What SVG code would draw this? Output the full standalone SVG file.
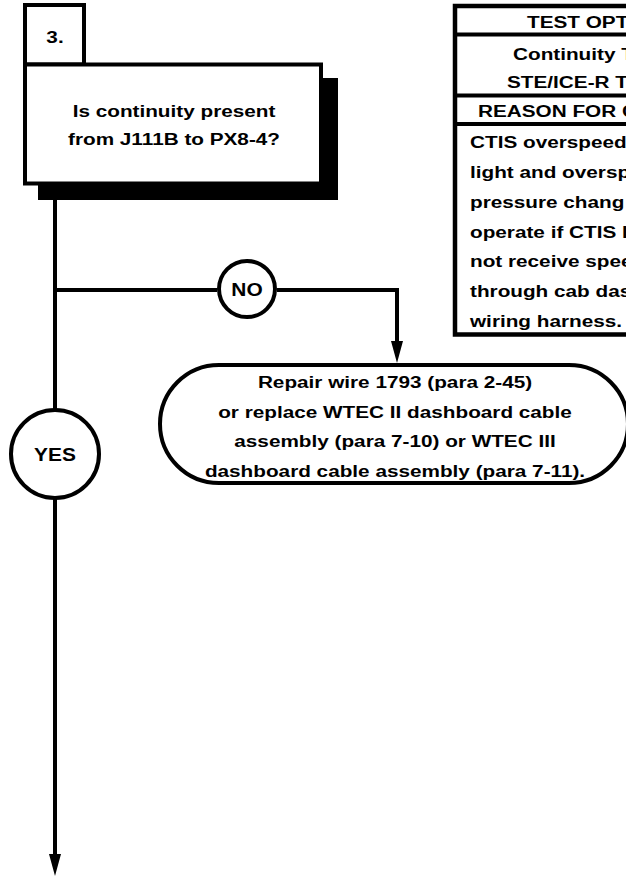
<svg xmlns="http://www.w3.org/2000/svg" width="626" height="878" viewBox="0 0 626 878">
<style>
.t{font-family:"Liberation Sans",Arial,sans-serif;font-weight:bold;font-size:17px;fill:#000}
.c{font-size:19px}
.m{text-anchor:middle}
.s{text-anchor:start}
.box{fill:#fff;stroke:#000;stroke-width:4}
.ln{fill:none;stroke:#000;stroke-width:4}
</style>
<defs>
<marker id="ah" markerUnits="userSpaceOnUse" markerWidth="22" markerHeight="12" refX="0" refY="6" orient="auto" viewBox="0 0 22 12">
<path d="M0,0 L22,6 L0,12 Z" fill="#000"/>
</marker>
</defs>
<g id="connectors">
<path class="ln" d="M55,200 V410"/>
<path class="ln" d="M55,498 V854" marker-end="url(#ah)"/>
<path class="ln" d="M55,290 H217"/>
<path class="ln" d="M277,290 H397 V341" marker-end="url(#ah)"/>
</g>
<g id="step3">
<rect x="38" y="78" width="300" height="122" fill="#000"/>
<rect class="box" x="25" y="5" width="59" height="59.5"/>
<rect class="box" x="25" y="64.5" width="296" height="119"/>
<text class="t m" transform="translate(55,43) scale(1.22,1)">3.</text>
<text class="t m" transform="translate(174,117) scale(1.22,1)">Is continuity present</text>
<text class="t m" transform="translate(174,145) scale(1.22,1)">from J111B to PX8-4?</text>
</g>
<g id="no">
<circle class="box" cx="247" cy="289" r="28"/>
<text class="t c m" transform="translate(247,296) scale(1.1,1)">NO</text>
</g>
<g id="yes">
<circle class="box" cx="55" cy="454" r="44"/>
<text class="t c m" transform="translate(55,461) scale(1.1,1)">YES</text>
</g>
<g id="repair">
<rect class="box" x="160" y="365" width="468" height="118" rx="59" ry="59"/>
<text class="t m" transform="translate(395,388) scale(1.22,1)">Repair wire 1793 (para 2-45)</text>
<text class="t m" transform="translate(395,418) scale(1.22,1)">or replace WTEC II dashboard cable</text>
<text class="t m" transform="translate(395,447) scale(1.22,1)">assembly (para 7-10) or WTEC III</text>
<text class="t m" transform="translate(395,477) scale(1.22,1)">dashboard cable assembly (para 7-11).</text>
</g>
<g id="table">
<rect x="455" y="6" width="260" height="328.5" fill="#fff" stroke="#000" stroke-width="4.5"/>
<path class="ln" stroke-width="4.5" d="M455,34.5 H720 M455,95.5 H720 M455,124 H720"/>
<text class="t s" transform="translate(527,28) scale(1.22,1)">TEST OPT</text>
<text class="t s" transform="translate(513,60) scale(1.22,1)">Continuity T</text>
<text class="t s" transform="translate(507,88) scale(1.22,1)">STE/ICE-R T</text>
<text class="t s" transform="translate(478,117) scale(1.22,1)">REASON FOR C</text>
<text class="t s" transform="translate(470,148) scale(1.22,1)">CTIS overspeed</text>
<text class="t s" transform="translate(470,178) scale(1.22,1)">light and oversp</text>
<text class="t s" transform="translate(470,208) scale(1.22,1)">pressure chang</text>
<text class="t s" transform="translate(470,238) scale(1.22,1)">operate if CTIS I</text>
<text class="t s" transform="translate(470,267) scale(1.22,1)">not receive spee</text>
<text class="t s" transform="translate(470,297) scale(1.22,1)">through cab das</text>
<text class="t s" transform="translate(470,327) scale(1.22,1)">wiring harness.</text>
</g>
</svg>
